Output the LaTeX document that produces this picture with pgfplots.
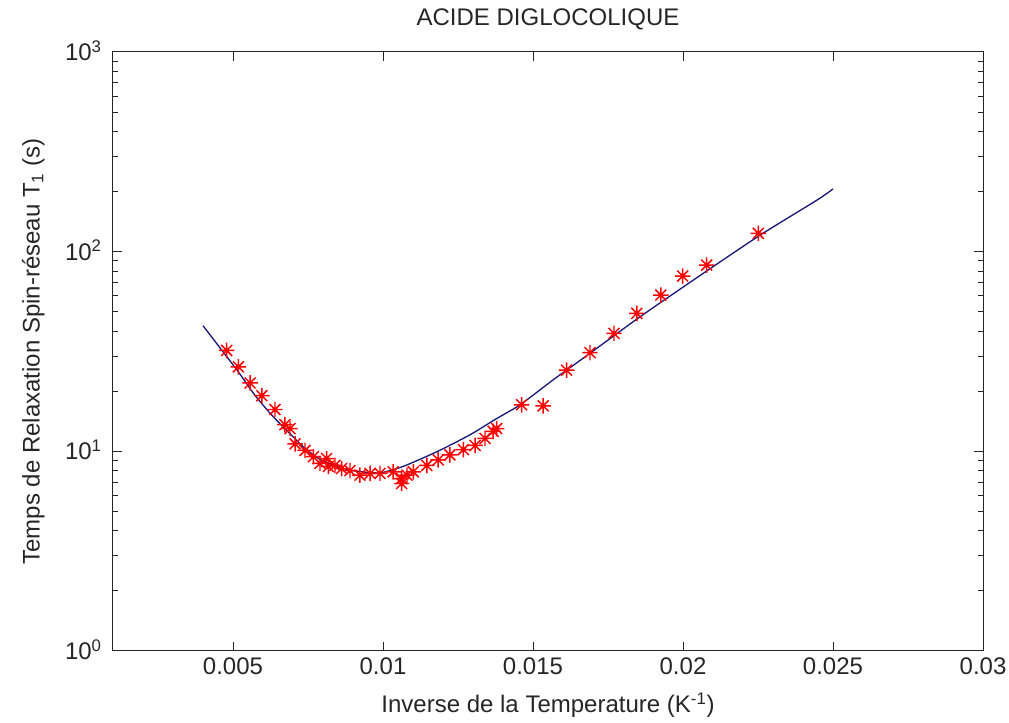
\documentclass[border=0pt]{standalone}
\usepackage{pgfplots}
\pgfplotsset{compat=1.18}
\usepackage{fontspec}
\setmainfont{Liberation Sans}
\definecolor{curveblue}{RGB}{25,25,120}
\definecolor{axgray}{RGB}{38,38,38}
\pgfdeclareplotmark{mstar}{%
  \pgfpathmoveto{\pgfqpoint{-\pgfplotmarksize}{0pt}}\pgfpathlineto{\pgfqpoint{\pgfplotmarksize}{0pt}}%
  \pgfpathmoveto{\pgfqpoint{0pt}{-\pgfplotmarksize}}\pgfpathlineto{\pgfqpoint{0pt}{\pgfplotmarksize}}%
  \pgfpathmoveto{\pgfqpoint{-.70710678\pgfplotmarksize}{-.70710678\pgfplotmarksize}}\pgfpathlineto{\pgfqpoint{.70710678\pgfplotmarksize}{.70710678\pgfplotmarksize}}%
  \pgfpathmoveto{\pgfqpoint{-.70710678\pgfplotmarksize}{.70710678\pgfplotmarksize}}\pgfpathlineto{\pgfqpoint{.70710678\pgfplotmarksize}{-.70710678\pgfplotmarksize}}%
  \pgfusepathqstroke}
\begin{document}
\begin{tikzpicture}
\path (0,0) rectangle (756.75pt,540pt);
\begin{axis}[
  at={(84.75pt,51.75pt)}, anchor=south west,
  scale only axis, width=652.5pt, height=449.25pt,
  xmin=0.001, xmax=0.03, ymin=1, ymax=1000, ymode=log,
  xtick={0.005,0.01,0.015,0.02,0.025,0.03},
  xticklabels={0.005,0.01,0.015,0.02,0.025,0.03},
  ytick={1,10,100,1000},
  yticklabels={10\textsuperscript{0},10\textsuperscript{1},10\textsuperscript{2},10\textsuperscript{3}},
  minor ytick={2,3,4,5,6,7,8,9,20,30,40,50,60,70,80,90,200,300,400,500,600,700,800,900},
  scaled x ticks=false,
  tick align=inside,
  major tick length=6.5pt, minor tick length=4pt,
  every tick/.style={axgray, line width=0.75pt},
  axis line style={axgray, line width=0.75pt},
  tick label style={font=\fontsize{18}{20}\selectfont, text=axgray},
  xticklabel style={anchor=north, inner sep=0pt, yshift=-4.5pt},
  yticklabel style={anchor=base east, inner sep=0pt, xshift=-8.25pt, yshift=-6.45pt},
  title={ACIDE DIGLOCOLIQUE},
  title style={at={(axis description cs:0.5,1.0317)}, anchor=base, font=\fontsize{18}{20}\selectfont, text=axgray},
  xlabel={Inverse de la Temperature (K\textsuperscript{-1})},
  xlabel style={at={(axis description cs:0.5,-0.1035)}, anchor=base, font=\fontsize{18}{20}\selectfont, text=axgray},
  ylabel={Temps de Relaxation Spin-réseau T\textsubscript{1} (s)},
  ylabel style={at={(axis description cs:-0.0843,0.5)}, anchor=base, rotate=0, font=\fontsize{18}{20}\selectfont, text=axgray},
  clip=false,
]
\addplot[only marks, mark=mstar, mark size=5.8pt, mark options={red, line width=1.1pt}] coordinates {
(0.00479,32.0) (0.00518,26.5) (0.00557,22.0) (0.00596,19.0) (0.00640,16.2)
(0.00673,13.6) (0.00690,13.0) (0.00707,10.9) (0.00740,10.1) (0.00768,9.4)
(0.00790,8.7) (0.00812,9.2) (0.00818,8.4) (0.00840,8.5) (0.00862,8.2)
(0.00890,8.0) (0.00923,7.6) (0.00957,7.75) (0.00990,7.75) (0.01034,7.9)
(0.01062,7.3) (0.01062,6.9) (0.01080,7.6) (0.01101,7.9) (0.01146,8.5)
(0.01184,9.06) (0.01223,9.6) (0.01268,10.2) (0.01307,10.7) (0.01340,11.6)
(0.01367,12.6) (0.01379,13.0) (0.01462,17.1) (0.01534,16.9) (0.01612,25.5)
(0.01690,31.2) (0.01770,39.0) (0.01846,49.1) (0.01926,60.6) (0.01999,75.5)
(0.02079,85.7) (0.02251,123.6)
};
\addplot[curveblue, line width=1pt, no marks, smooth, tension=0.4] coordinates {
(0.0040,42.6) (0.00462,32.2) (0.00518,25.0) (0.00573,19.1) (0.00629,15.2)
(0.00684,12.5) (0.00740,10.35) (0.00796,9.0) (0.00851,8.36) (0.00900,8.0)
(0.00967,7.8) (0.01000,7.85) (0.01067,8.4) (0.0118,9.96) (0.0129,12.1)
(0.01379,14.6) (0.01457,17.1) (0.01567,22.8) (0.01612,25.5) (0.0169,31.0)
(0.01857,47.2) (0.02057,76) (0.02257,121) (0.02446,181) (0.025,206)
};
\end{axis}
\end{tikzpicture}
\end{document}
